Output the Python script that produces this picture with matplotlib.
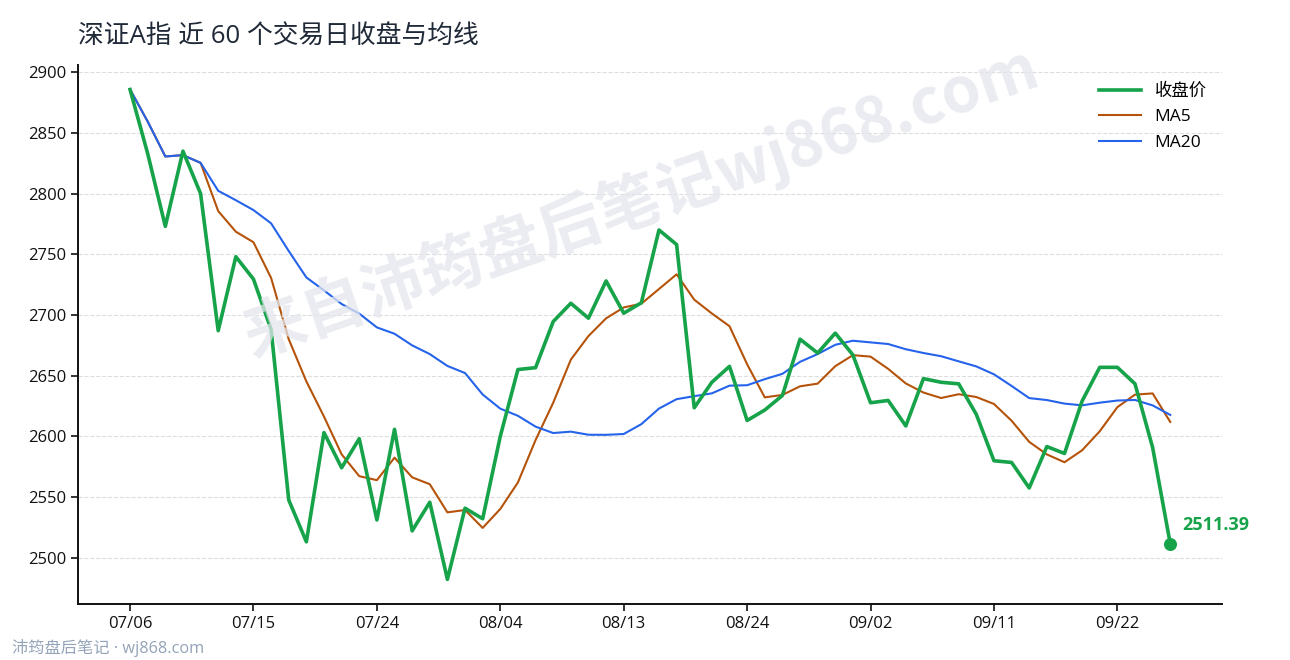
import numpy as np
import pandas as pd
import matplotlib
matplotlib.use("Agg")
import matplotlib.pyplot as plt

plt.rcParams['font.family'] = ['Open Sans', 'Noto Sans CJK SC', 'DejaVu Sans']

# 深证A指 近60个交易日收盘
start_date = "2020-07-06"
close = [2885.8, 2833.0, 2773.0, 2835.0, 2800.0, 2687.0, 2748.0, 2729.5, 2688.0, 2547.5,
         2513.0, 2603.0, 2574.0, 2598.0, 2531.0, 2605.7, 2522.0, 2545.6, 2482.0, 2540.7,
         2532.0, 2600.0, 2655.0, 2656.5, 2694.5, 2709.6, 2697.3, 2728.0, 2701.4, 2710.0,
         2770.0, 2758.0, 2623.5, 2644.5, 2657.6, 2613.0, 2621.6, 2633.6, 2680.0, 2668.6,
         2685.0, 2667.0, 2627.6, 2629.5, 2608.5, 2647.5, 2644.5, 2643.2, 2618.0, 2579.8,
         2578.4, 2557.4, 2591.5, 2585.8, 2629.0, 2656.8, 2656.8, 2643.2, 2590.7, 2511.39]
ma_windows = [5, 20]
tick_step = 7

dates = pd.bdate_range(start_date, periods=len(close))
s = pd.Series(close)
ma5 = s.rolling(ma_windows[0], min_periods=1).mean()
ma20 = s.rolling(ma_windows[1], min_periods=1).mean()
x = np.arange(len(close))

fig = plt.figure(figsize=(12.9, 6.6), dpi=100)
ax = fig.add_axes([0.0605, 0.085, 0.887, 0.8165])

# 水印
fig.text(0.497, 0.695, "来自沛筠盘后笔记wj868.com", fontsize=45, fontweight='bold',
         color='#e4e6ed', alpha=0.75, rotation=19, ha='center', va='center', zorder=0,
         family=['Noto Sans CJK SC', 'DejaVu Sans'])

ax.set_facecolor('none')
ax.plot(x, close, color='#16a34a', lw=2.6, label='收盘价', zorder=4)
ax.plot(x, ma5, color='#b45309', lw=1.5, label='MA5', zorder=3)
ax.plot(x, ma20, color='#2563eb', lw=1.5, label='MA20', zorder=3)

# 最新收盘
ax.scatter([x[-1]], [close[-1]], s=70, color='#16a34a', zorder=5)
ax.annotate(f"{close[-1]:.2f}", (x[-1], close[-1]), xytext=(9, 7),
            textcoords='offset points', color='#16a34a', fontsize=13,
            fontweight='bold', va='bottom', ha='left')

ax.set_yticks(np.arange(2500, 2901, 50))
ax.set_xticks(x[::tick_step])
ax.set_xticklabels([d.strftime('%m/%d') for d in dates[::tick_step]])
ax.tick_params(labelsize=12, length=5, width=1.2, colors='#111111')
ax.grid(axis='y', linestyle='--', color='#dddddd', lw=0.8)
ax.set_axisbelow(True)
for sp in ['top', 'right']:
    ax.spines[sp].set_visible(False)
for sp in ['left', 'bottom']:
    ax.spines[sp].set_linewidth(1.4)
    ax.spines[sp].set_color('#111111')

ax.legend(loc='upper right', frameon=False, fontsize=12.5, handlelength=2.4,
          labelspacing=0.55, bbox_to_anchor=(1.0, 0.995))

fig.text(0.0605, 0.945, "深证A指 近 60 个交易日收盘与均线", fontsize=18.5,
         color='#1f2937', ha='left', va='center')
fig.text(0.009, 0.018, "沛筠盘后笔记 · wj868.com", fontsize=11.7,
         color='#94a3b8', ha='left', va='center')

fig.savefig("out.png", dpi=100)
